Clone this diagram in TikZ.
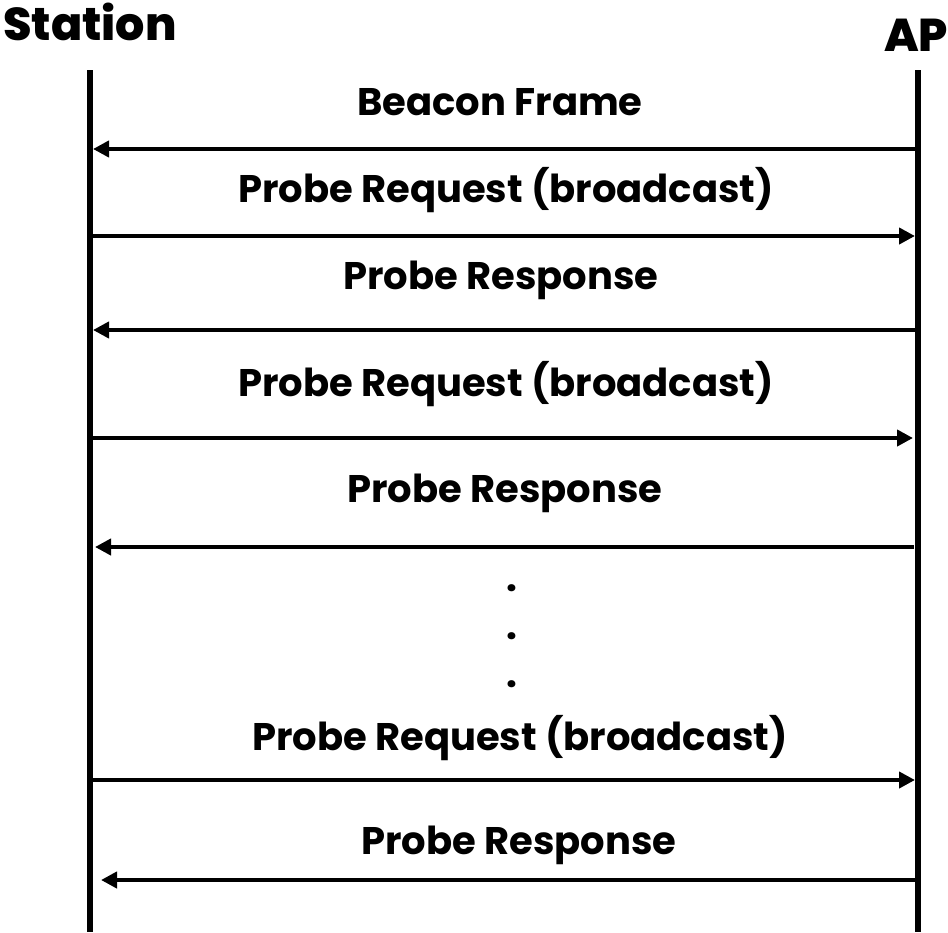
\documentclass[tikz,border=0pt]{standalone}
\usepackage{fontspec}
\setmainfont{Poppins}
\newfontfamily\heavyfont{Poppins}[UprightFont={* ExtraBold}]
\usepackage{tikz}
\usetikzlibrary{positioning, arrows.meta}

\tikzset{
    party/.style={font=\fontsize{46}{52}\heavyfont, inner sep=0pt},
    lifeline/.style={line width=6pt},
    msg/.style={line width=4.5pt, -{Triangle[length=16pt,width=16pt]}, shorten >=3pt},
    lbl/.style={font=\fontsize{38.5}{44}\selectfont\bfseries, inner sep=0pt},
}

\begin{document}
\begin{tikzpicture}[x=1pt, y=-1pt]
    \useasboundingbox (0,0) rectangle (948,932);

    % parties
    \node[party] (sta) at (90,22) {Station};
    \node[party] (ap) at (916,35) {AP};

    % lifelines
    \coordinate (stop) at (90,70);
    \coordinate (sbot) at (90,932);
    \coordinate (atop) at (918,70);
    \coordinate (abot) at (918,932);
    \draw[lifeline] (stop) -- (sbot);
    \draw[lifeline] (atop) -- (abot);

    % message ends
    \coordinate (s1) at (90,149);  \coordinate (a1) at (918,149);
    \coordinate (s2) at (90,236);  \coordinate (a2) at (918,236);
    \coordinate (s3) at (90,330);  \coordinate (a3) at (918,330);
    \coordinate (s4) at (90,438);  \coordinate (a4) at (916,438);
    \coordinate (s5) at (92,547);  \coordinate (a5) at (914,547);
    \coordinate (s6) at (90,780);  \coordinate (a6) at (918,780);
    \coordinate (s7) at (98,880);  \coordinate (a7) at (918,880);

    \draw[msg] (a1) -- (s1);
    \draw[msg] (s2) -- (a2);
    \draw[msg] (a3) -- (s3);
    \draw[msg] (s4) -- (a4);
    \draw[msg] (a5) -- (s5);
    \draw[msg] (s6) -- (a6);
    \draw[msg] (a7) -- (s7);

    % labels
    \node[lbl] (l1) at (500,102) {Beacon Frame};
    \node[lbl] (l2) at (506,190) {Probe Request (broadcast)};
    \node[lbl] (l3) at (501,280) {Probe Response};
    \node[lbl] (l4) at (506,384) {Probe Request (broadcast)};
    \node[lbl] (l5) at (505,493) {Probe Response};
    \node[lbl] (l6) at (520,738) {Probe Request (broadcast)};
    \node[lbl] (l7) at (519,845) {Probe Response};

    % dots
    \node[lbl] (d1) at (512,588) {.};
    \node[lbl] (d2) at (512,636) {.};
    \node[lbl] (d3) at (512,684) {.};
\end{tikzpicture}
\end{document}
